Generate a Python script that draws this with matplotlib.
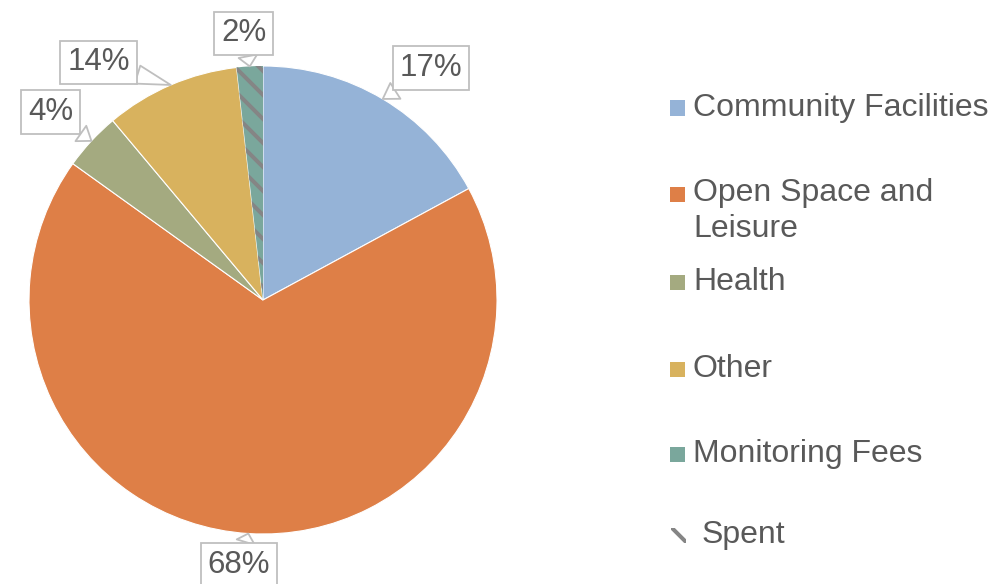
import numpy as np
import matplotlib
matplotlib.use('Agg')
import matplotlib.pyplot as plt
from matplotlib.patches import Rectangle

# slice shares (start at 12 o'clock, clockwise)
categories = ['Community Facilities', 'Open Space and\nLeisure', 'Health', 'Other', 'Monitoring Fees']
values = [17.1, 67.8, 4.0, 9.3, 1.8]
pct_labels = ['17%', '68%', '4%', '14%', '2%']
colors = ['#95B3D7', '#DE7F47', '#A4AA80', '#D8B25E', '#7AA79C']
# where the callout boxes sit (pie radius = 1)
label_pos = [(0.718, 0.991), (-0.103, -1.132), (-0.908, 0.803), (-0.703, 1.015), (-0.083, 1.139)]

TXT = '#595959'
BOX = '#BFBFBF'
HATCH = '\\'
HATCH_COL = '#858585'

# dpi 72 so one point is one pixel (and the hatch period comes out ~12 px)
DPI = 72
plt.rcParams['font.family'] = ['Liberation Sans', 'DejaVu Sans']
plt.rcParams['hatch.linewidth'] = 4.0

W, H = 994, 584
fig = plt.figure(figsize=(W / DPI, H / DPI), dpi=DPI)
ax = fig.add_axes([0, 0, 1, 1])

cx, cy, R = 263, 300, 234
wedges, _ = ax.pie(values, colors=colors, startangle=90, counterclock=False,
                   wedgeprops=dict(edgecolor='white', linewidth=1.1))
ax.set_aspect('auto')
ax.set_xlim(-cx / R, (W - cx) / R)
ax.set_ylim(-(H - cy) / R, cy / R)
ax.axis('off')

# monitoring fees slice is shown as "spent" (hatched)
wedges[4].set_hatch(HATCH)
wedges[4].set_edgecolor(HATCH_COL)
wedges[4].set_linewidth(0)

for w, lab, pos in zip(wedges, pct_labels, label_pos):
    mid = np.deg2rad((w.theta1 + w.theta2) / 2)
    tip = (np.cos(mid), np.sin(mid))
    ax.annotate(lab, xy=tip, xytext=pos, ha='center', va='center',
                fontsize=31.3, color=TXT,
                bbox=dict(boxstyle='square,pad=0.22', fc='white', ec=BOX, lw=1.8),
                arrowprops=dict(arrowstyle='wedge,tail_width=0.6,shrink_factor=0.5',
                                fc='white', ec=BOX, lw=1.8, shrinkA=0, shrinkB=0))

# legend drawn by hand to match the uneven spacing
leg_y = [108, 194.5, 282, 369, 454]
for name, col, y in zip(categories, colors, leg_y):
    fig.add_artist(Rectangle((670 / W, 1 - (y + 7.5) / H), 15 / W, 15 / H,
                             transform=fig.transFigure, fc=col, ec='none'))
    if '\n' in name:
        fig.text(693 / W, 1 - (y - 17) / H, name, fontsize=32, color=TXT,
                 va='top', ha='left', linespacing=1.3)
    else:
        fig.text(693 / W, 1 - y / H, name, fontsize=32, color=TXT,
                 va='center', ha='left')

fig.add_artist(Rectangle((671 / W, 1 - 543 / H), 15 / W, 15 / H,
                         transform=fig.transFigure, fill=False, ec=HATCH_COL,
                         lw=0, hatch=HATCH))
fig.text(702 / W, 1 - 535 / H, 'Spent', fontsize=32, color=TXT, va='center', ha='left')

fig.savefig('out.png', dpi=DPI, facecolor='white')
